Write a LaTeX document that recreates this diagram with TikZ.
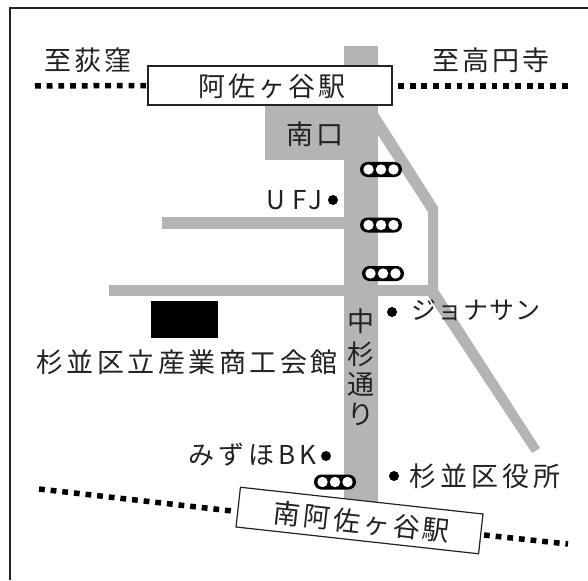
\documentclass[tikz,border=0pt]{standalone}
\usepackage{fontspec}
\setmainfont{Noto Sans CJK JP}
\newfontfamily\jpw[LetterSpace=11]{Noto Sans CJK JP}
\newfontfamily\jpx[LetterSpace=13]{Noto Sans CJK JP}
\newfontfamily\jpk[LetterSpace=4]{Noto Sans CJK JP}
\newfontfamily\jpm[LetterSpace=15]{Noto Sans CJK JP}
\newfontfamily\jpl[LetterSpace=25]{Noto Sans CJK JP}
\definecolor{road}{HTML}{B4B4B4}
\definecolor{ink}{HTML}{222222}
\tikzset{
  roadfill/.style={fill=road,draw=none},
  station/.style={draw=ink,line width=1.4pt,fill=white,minimum height=39pt,inner sep=0pt,text=ink},
  rail/.style={draw=black,line width=5.5pt,dash pattern=on 5.8pt off 5.9pt},
  lab/.style={inner sep=0pt,text=ink,font=\fontsize{27}{27}\selectfont\jpw},
  labx/.style={inner sep=0pt,text=ink,font=\fontsize{27}{27}\selectfont\jpx},
  streetchar/.style={inner sep=0pt,text=ink,font=\fontsize{27}{27}\selectfont},
  spot/.style={circle,fill=black,minimum size=10pt,inner sep=0pt},
  block/.style={fill=black,minimum width=67pt,minimum height=37pt,inner sep=0pt}
}
\newcommand{\signalat}[2]{%
  \fill[black,rounded corners=7.5pt] (#1-21,#2-7.5) rectangle (#1+21,#2+7.5);
  \fill[white] (#1-12.5,#2) circle (5.2pt) (#1,#2) circle (5.2pt) (#1+12.5,#2) circle (5.2pt);
}
\begin{document}
\begin{tikzpicture}[x=1pt,y=-1pt]
\useasboundingbox (0,0) rectangle (588,580);
\fill[white] (0,0) rectangle (588,580);
% frame
\draw[ink,line width=2pt] (9.5,580) -- (9.5,8.5) -- (588,8.5);
% roads
\fill[roadfill] (344,46) rectangle (378,502);
\fill[roadfill] (265,106) rectangle (345,160);
\fill[roadfill] (162,217) rectangle (345,229);
\fill[roadfill] (109,285) rectangle (438,296);
\fill[roadfill] (378,113) -- (438,207) -- (438,296) -- (428,296) -- (428,212) -- (378,135) -- cycle;
\fill[roadfill] (437,288) -- (540,448) -- (532,453) -- (428,296) -- cycle;
% rail
\coordinate (railA) at (35,86);
\coordinate (railB) at (398,86);
\coordinate (railC) at (568,86);
\coordinate (railD) at (39,489);
\coordinate (railE) at (232,511);
\coordinate (railF) at (484,535);
\coordinate (railG) at (568,544);
\node[station,minimum width=244pt] (north) at (270,85.5) {};
\draw[rail] (railA) -- (north.west);
\draw[rail] (railB) -- (railC);
\draw[rail] (railD) -- (railE);
\draw[rail] (railF) -- (railG);
\node[station,minimum width=244pt,rotate=-6.3,line width=1.2pt,minimum height=40pt] (south) at (359.5,520.5) {};
% station labels
\node[lab] (northname) at (272,86) {阿佐ヶ谷駅};
\node[lab,rotate=-6.3] (southname) at (362,522) {南阿佐ヶ谷駅};
\node[lab] (west) at (88,60) {至荻窪};
\node[lab] (east) at (491,60) {至高円寺};
\node[lab] (exit) at (315,134) {南口};
% signals
\signalat{381}{169.5}
\signalat{381}{225}
\signalat{383}{273.5}
\signalat{335}{482}
% landmarks
\node[inner sep=0pt,text=ink,font=\fontsize{26}{26}\selectfont\jpl,anchor=east] (ufj) at (323,200) {UFJ};
\node[spot] (ufjdot) at (333,200) {};
\node[spot] (jodot) at (392,312) {};
\node[inner sep=0pt,text=ink,font=\fontsize{25}{25}\selectfont\jpk,anchor=west] (jo) at (411,310) {ジョナサン};
\node[block] (hall) at (184.5,319.5) {};
\node[labx] (hallname) at (187,362) {杉並区立産業商工会館};
\node[inner sep=0pt,text=ink,font=\fontsize{26}{26}\selectfont\jpm,anchor=east] (miz) at (316,455) {みずほBK};
\node[spot] (mizdot) at (326,456) {};
\node[spot] (warddot) at (394,476) {};
\node[inner sep=0pt,text=ink,font=\fontsize{27}{27}\selectfont\jpm,anchor=west] (ward) at (409,476) {杉並区役所};
% street name
\node[streetchar] (s1) at (361,321) {中};
\node[streetchar] (s2) at (361,354) {杉};
\node[streetchar] (s3) at (361,384) {通};
\node[streetchar] (s4) at (361,414) {り};
\end{tikzpicture}
\end{document}
